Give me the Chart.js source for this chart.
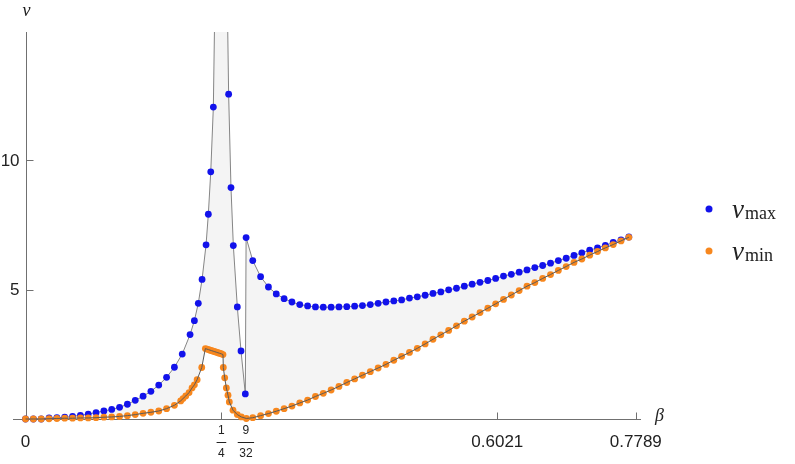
<!DOCTYPE html>
<html>
<head>
<meta charset="utf-8">
<script src="https://cdn.jsdelivr.net/npm/chart.js@4.4.0/dist/chart.umd.min.js"></script>
<style>
  html, body { margin: 0; padding: 0; background: #fff; }
  #wrap { position: relative; width: 795px; height: 464px; }
</style>
</head>
<body>
<div id="wrap"><canvas id="chart" width="795" height="464"></canvas></div>
<script>
'use strict';

/* ── Data ───────────────────────────────────────────────────────── */
const betaMax = [
  0, 0.01, 0.02, 0.03, 0.04, 0.05, 0.06, 0.07, 0.08, 0.09, 0.10, 0.11, 0.12, 0.13, 0.14,
  0.15, 0.16, 0.17, 0.18, 0.19, 0.20, 0.21, 0.2155, 0.2205, 0.2253, 0.2304, 0.2333,
  0.2364, 0.2397, 0.2497, 0.2592, 0.2622, 0.2652, 0.2703, 0.275, 0.2805, 0.2815,
  0.29, 0.30, 0.31, 0.32, 0.33, 0.34, 0.35, 0.36, 0.37, 0.38, 0.39, 0.40, 0.41, 0.42,
  0.43, 0.44, 0.45, 0.46, 0.47, 0.48, 0.49, 0.50, 0.51, 0.52, 0.53, 0.54, 0.55, 0.56,
  0.57, 0.58, 0.59, 0.60, 0.61, 0.62, 0.63, 0.64, 0.65, 0.66, 0.67, 0.68, 0.69, 0.70,
  0.71, 0.72, 0.73, 0.74, 0.75, 0.76, 0.77
];
const nuMax = [
  0.00, 0.00, 0.00, 0.04, 0.05, 0.07, 0.10, 0.14, 0.19, 0.25, 0.31, 0.37, 0.45, 0.57, 0.72,
  0.88, 1.07, 1.31, 1.61, 2.00, 2.51, 3.26, 3.80, 4.47, 5.39, 6.73, 7.91,
  9.55, 12.05, 33.0, 12.55, 8.94, 6.70, 4.33, 2.63, 0.97, 7.01,
  6.12, 5.50, 5.10, 4.83, 4.65, 4.52, 4.42, 4.37, 4.33, 4.32, 4.32, 4.33, 4.34, 4.36,
  4.38, 4.42, 4.47, 4.52, 4.56, 4.60, 4.67, 4.72, 4.78, 4.85, 4.91, 4.99, 5.05, 5.13,
  5.21, 5.28, 5.35, 5.43, 5.52, 5.59, 5.67, 5.76, 5.85, 5.93, 6.02, 6.12, 6.21, 6.32,
  6.42, 6.52, 6.61, 6.71, 6.82, 6.92, 7.03
];

const betaMin = [
  0, 0.01, 0.02, 0.03, 0.04, 0.05, 0.06, 0.07, 0.08, 0.09, 0.10, 0.11, 0.12, 0.13, 0.14,
  0.15, 0.16, 0.17, 0.18, 0.19, 0.198, 0.201, 0.2045, 0.2087, 0.2125, 0.2155, 0.219, 0.2249,
  0.2295, 0.2315, 0.2335, 0.2355, 0.2375, 0.2395, 0.2415, 0.2435, 0.2455, 0.2475, 0.2497, 0.252,
  0.2524, 0.2542, 0.2563, 0.2584, 0.2601, 0.2648, 0.2703, 0.2754, 0.2818,
  0.29, 0.30, 0.31, 0.32, 0.33, 0.34, 0.35, 0.36, 0.37, 0.38, 0.39, 0.40, 0.41, 0.42,
  0.43, 0.44, 0.45, 0.46, 0.47, 0.48, 0.49, 0.50, 0.51, 0.52, 0.53, 0.54, 0.55, 0.56,
  0.57, 0.58, 0.59, 0.60, 0.61, 0.62, 0.63, 0.64, 0.65, 0.66, 0.67, 0.68, 0.69, 0.70,
  0.71, 0.72, 0.73, 0.74, 0.75, 0.76, 0.77
];
const nuMin = [
  0.00, 0.00, 0.00, 0.01, 0.02, 0.03, 0.03, 0.04, 0.04, 0.05, 0.07, 0.08, 0.10, 0.13, 0.17,
  0.22, 0.26, 0.31, 0.40, 0.53, 0.70, 0.79, 0.89, 1.02, 1.20, 1.32, 1.52, 1.99,
  2.72, 2.70, 2.68, 2.66, 2.64, 2.62, 2.60, 2.58, 2.56, 2.54, 2.52, 2.49,
  1.99, 1.59, 1.20, 0.92, 0.66, 0.34, 0.17, 0.08, 0.02,
  0.05, 0.13, 0.21, 0.30, 0.40, 0.50, 0.62, 0.73, 0.87, 0.99, 1.12, 1.26, 1.41, 1.55,
  1.69, 1.83, 1.97, 2.11, 2.27, 2.42, 2.57, 2.73, 2.90, 3.08, 3.25, 3.42, 3.60, 3.78,
  3.94, 4.11, 4.28, 4.45, 4.62, 4.79, 4.96, 5.13, 5.27, 5.43, 5.58, 5.74, 5.89, 6.05,
  6.18, 6.33, 6.47, 6.61, 6.74, 6.88, 7.02
];

const xTickValues = [0.25, 0.28125, 0.6021, 0.7789];
const xTickLabels = [['1', '4'], ['9', '32'], '0.6021', '0.7789'];
const yTickValues = [5, 10];
const yTickLabels = ['5', '10'];

/* ── Colours ────────────────────────────────────────────────────── */
const BLUE   = 'rgb(18,18,235)';
const ORANGE = 'rgb(247,135,30)';
const AXIS   = '#707070';
const TEXT   = '#222';

const maxPts = betaMax.map((b, i) => ({ x: b, y: nuMax[i] }));
const minPts = betaMin.map((b, i) => ({ x: b, y: nuMin[i] }));
const band   = maxPts.concat(minPts.slice().reverse());

const CLIP = { left: 8, top: 0, right: 8, bottom: 8 };

/* ── Axes, ticks, labels and legend ─────────────────────────────── */
const axesPlugin = {
  id: 'axes',
  beforeDatasetsDraw(chart) {
    const { ctx, chartArea: a, scales: { x, y } } = chart;
    const x0 = Math.round(x.getPixelForValue(0)) + 0.5;
    const y0 = Math.round(y.getPixelForValue(0)) + 0.5;
    ctx.save();
    ctx.strokeStyle = AXIS;
    ctx.lineWidth = 1;
    ctx.beginPath();
    ctx.moveTo(a.left, y0); ctx.lineTo(a.right, y0);
    ctx.moveTo(x0, y0); ctx.lineTo(x0, a.top);
    xTickValues.forEach(v => {
      const px = Math.round(x.getPixelForValue(v)) + 0.5;
      ctx.moveTo(px, y0); ctx.lineTo(px, y0 - 7);
    });
    yTickValues.forEach(v => {
      const py = Math.round(y.getPixelForValue(v)) + 0.5;
      ctx.moveTo(x0, py); ctx.lineTo(x0 + 7, py);
    });
    ctx.stroke();
    ctx.restore();
  },
  afterDraw(chart) {
    const { ctx, scales: { x, y } } = chart;
    const x0 = x.getPixelForValue(0);
    const y0 = y.getPixelForValue(0);
    ctx.save();
    ctx.fillStyle = TEXT;
    ctx.strokeStyle = TEXT;

    // y tick labels
    ctx.font = '17px "Liberation Sans", Arial, sans-serif';
    ctx.textAlign = 'right';
    ctx.textBaseline = 'middle';
    yTickValues.forEach((v, i) => ctx.fillText(yTickLabels[i], x0 - 6, y.getPixelForValue(v) + 1));

    // x tick labels
    ctx.textAlign = 'center';
    ctx.fillText('0', x0, y0 + 23);
    xTickValues.forEach((v, i) => {
      const px = x.getPixelForValue(v);
      const lab = xTickLabels[i];
      if (Array.isArray(lab)) {
        ctx.font = '12px "Liberation Sans", Arial, sans-serif';
        ctx.fillText(lab[0], px, y0 + 12);
        ctx.fillText(lab[1], px, y0 + 35);
        const w = Math.max(ctx.measureText(lab[0]).width, ctx.measureText(lab[1]).width) + 3;
        ctx.lineWidth = 1;
        ctx.beginPath();
        ctx.moveTo(px - w / 2, Math.round(y0 + 23) + 0.5);
        ctx.lineTo(px + w / 2, Math.round(y0 + 23) + 0.5);
        ctx.stroke();
      } else {
        ctx.font = '17px "Liberation Sans", Arial, sans-serif';
        ctx.fillText(lab, px, y0 + 23);
      }
    });

    // axis labels
    ctx.font = 'italic 18px "Liberation Serif", "DejaVu Serif", serif';
    ctx.textAlign = 'left';
    ctx.textBaseline = 'alphabetic';
    ctx.fillText('ν', x0 - 3, 16);
    ctx.fillText('β', 655, y0 + 2);

    // legend
    const items = [
      { color: BLUE, sub: 'max', y: 209 },
      { color: ORANGE, sub: 'min', y: 251 },
    ];
    items.forEach(it => {
      ctx.fillStyle = it.color;
      ctx.beginPath();
      ctx.arc(709, it.y, 3.5, 0, Math.PI * 2);
      ctx.fill();
      ctx.fillStyle = TEXT;
      ctx.font = 'italic 27px "Liberation Serif", "DejaVu Serif", serif';
      ctx.fillText('ν', 732, it.y + 9);
      const w = ctx.measureText('ν').width;
      ctx.font = '18px "Liberation Serif", "DejaVu Serif", serif';
      ctx.fillText(it.sub, 732 + w + 1, it.y + 10);
    });
    ctx.restore();
  },
};

new Chart(document.getElementById('chart'), {
  type: 'scatter',
  data: {
    datasets: [
      {
        label: 'band',
        data: band,
        showLine: true,
        fill: 'shape',
        backgroundColor: '#f4f4f4',
        borderWidth: 0,
        pointRadius: 0,
        clip: CLIP,
        order: 5,
      },
      {
        label: 'max line',
        data: maxPts,
        showLine: true,
        borderColor: '#858585',
        borderWidth: 1,
        pointRadius: 0,
        clip: CLIP,
        order: 4,
      },
      {
        label: 'νmax',
        data: maxPts,
        backgroundColor: BLUE,
        borderWidth: 0,
        pointRadius: 3.4,
        clip: CLIP,
        order: 3,
      },
      {
        label: 'νmin',
        data: minPts,
        backgroundColor: ORANGE,
        borderWidth: 0,
        pointRadius: 3.4,
        clip: CLIP,
        order: 2,
      },
      {
        label: 'min line',
        data: minPts,
        showLine: true,
        borderColor: '#5a5a5a',
        borderWidth: 1,
        pointRadius: 0,
        clip: CLIP,
        order: 1,
      },
    ],
  },
  options: {
    responsive: false,
    animation: false,
    events: [],
    layout: { padding: { left: 13, right: 154, top: 32, bottom: 45 } },
    plugins: { legend: { display: false }, tooltip: { enabled: false } },
    scales: {
      x: { type: 'linear', display: false, min: -0.016, max: 0.7855 },
      y: { type: 'linear', display: false, min: 0, max: 14.95 },
    },
  },
  plugins: [axesPlugin],
});
</script>
</body>
</html>
